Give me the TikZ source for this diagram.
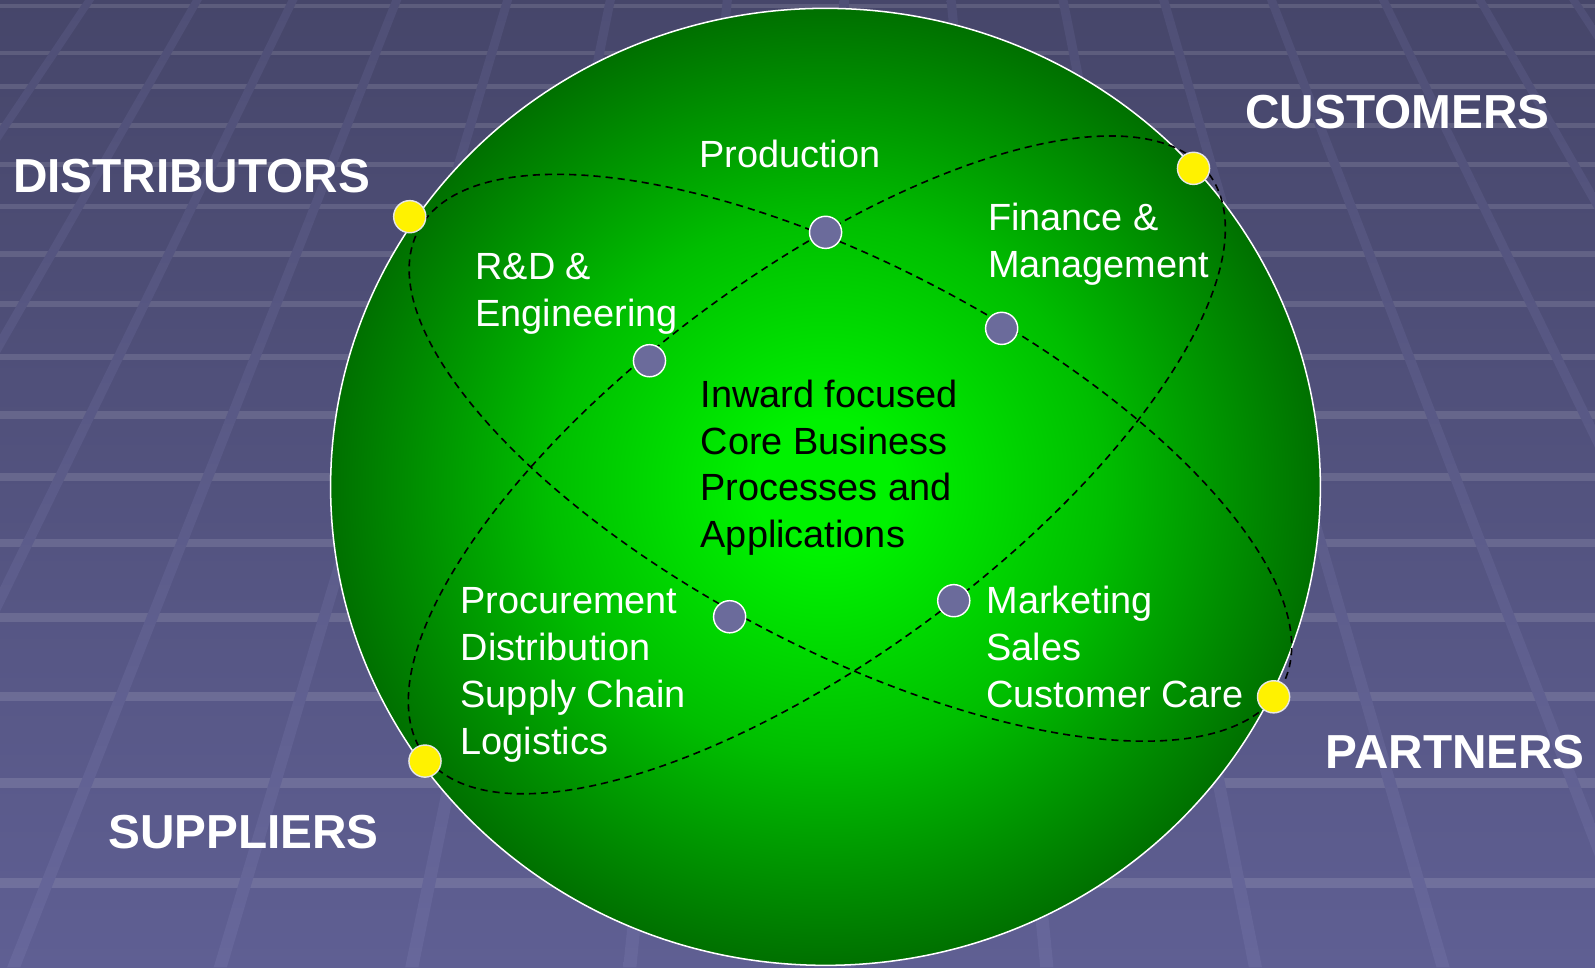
\documentclass[tikz,border=0pt]{standalone}
\usepackage{fontspec}
\setmainfont{Liberation Sans}
\usetikzlibrary{shapes.geometric}

\definecolor{bgtop}{HTML}{46466A}
\definecolor{bgbot}{HTML}{5F5F93}
\definecolor{sttop}{HTML}{4F4F76}
\definecolor{stbot}{HTML}{67679B}
\definecolor{ballin}{HTML}{00F200}
\definecolor{ballmid}{HTML}{00BE00}
\definecolor{ballout}{HTML}{007000}
\definecolor{dotgray}{HTML}{6B6B9B}
\definecolor{dotrim}{HTML}{E6E6E6}

\pgfdeclareradialshading{ballshade}{\pgfpoint{0bp}{0bp}}{color(0bp)=(ballin); color(3.5bp)=(ballin); color(14bp)=(ballmid); color(25bp)=(ballout); color(50bp)=(ballout)}

\begin{document}
\begin{tikzpicture}[x=0.02cm, y=-0.02cm,
  hband/.style={white, opacity=0.12},
  stripe/.style={top color=sttop, bottom color=stbot},
  ballrim/.style={draw=white, line width=0.85pt},
  dashline/.style={draw=black, line width=0.9pt, dash pattern=on 4pt off 2.8pt},
  ydot/.style={circle, fill=yellow, draw=dotrim, line width=0.8pt, minimum size=0.632cm, inner sep=0pt},
  gdot/.style={circle, fill=dotgray, draw=white, line width=0.8pt, minimum size=0.632cm, inner sep=0pt},
  lab/.style={text=white, font=\fontsize{26.7pt}{31pt}\selectfont\bfseries, anchor=base west, inner sep=0pt},
  txt/.style={text=white, font=\fontsize{21.2pt}{26pt}\selectfont, anchor=base west, inner sep=0pt},
  core/.style={txt, text=black}]

\useasboundingbox (0,0) rectangle (1568,951);

% ---------- background ----------
\begin{scope}
\clip (0,0) rectangle (1568,951);
\shade[top color=bgtop, bottom color=bgbot] (0,0) rectangle (1568,951);
\foreach \y/\t in {6/4.0, 52/4.4, 85/4.6, 123/4.9, 162/5.2, 203/5.5, 250/5.8, 299/6.2, 351/6.6, 408/7.0, 469/7.5, 534/7.9, 607/8.5, 685/9.0, 770/9.7, 868/10.4}
  \fill[hband] (0,\y-\t/2) rectangle (1568,\y+\t/2);
\foreach \xt in {88,194,288,390,499,600,715,830,935,1045,1144,1250,1360,1455,1547} {
  \pgfmathsetmacro\xb{\xt + (\xt-826)*0.8638}
  \shade[stripe] (\xt-4.5,0) -- (\xt+4.5,0) -- (\xb+6.5,951) -- (\xb-6.5,951) -- cycle;
}
\end{scope}

% ---------- green ball ----------
\shade[shading=ballshade] (811.5,478.6) ellipse [x radius=486.5, y radius=470.4];
\draw[ballrim] (811.5,478.6) ellipse [x radius=486.5, y radius=470.4];

% ---------- dashed orbits ----------
\draw[dashline, rotate around={-27.75:(836,450)}] (836,450) ellipse [x radius=480, y radius=188];
\draw[dashline, rotate around={36.55:(803,457)}] (803,457) ellipse [x radius=480, y radius=188];

% ---------- dots ----------
\node[ydot] (distdot) at (402.8,213) {};
\node[ydot] (custdot) at (1173.3,165.5) {};
\node[ydot] (suppdot) at (417.8,748.2) {};
\node[ydot] (partdot) at (1252,685) {};
\node[gdot] (proddot) at (811.6,228.4) {};
\node[gdot] (findot) at (984.7,322.8) {};
\node[gdot] (rddot) at (638.5,354.6) {};
\node[gdot] (procdot) at (717.3,606.3) {};
\node[gdot] (mktdot) at (937.6,590.5) {};

% ---------- outer labels ----------
\node[lab] (distributors) at (12.5,189.5) {DISTRIBUTORS};
\node[lab] (customers) at (1224,126) {CUSTOMERS};
\node[lab] (partners) at (1303,755) {PARTNERS};
\node[lab] (suppliers) at (106,834) {SUPPLIERS};

% ---------- inner labels ----------
\node[txt] (production) at (687,164.5) {Production};
\node[txt] (rd1) at (467,275) {R\&D \&};
\node[txt] (rd2) at (467,321) {Engineering};
\node[txt] (fin1) at (971,227) {Finance \&};
\node[txt] (fin2) at (971,273) {Management};
\node[core] (core1) at (688.5,400.5) {Inward focused};
\node[core] (core2) at (688.5,446.5) {Core Business};
\node[core] (core3) at (688.5,492.5) {Processes and};
\node[core] (core4) at (688.5,538.5) {Applications};
\node[txt] (proc1) at (452.5,603.5) {Procurement};
\node[txt] (proc2) at (452.5,649.5) {Distribution};
\node[txt] (proc3) at (452.5,695.5) {Supply Chain};
\node[txt] (proc4) at (452.5,741.5) {Logistics};
\node[txt] (mkt1) at (969.5,603.5) {Marketing};
\node[txt] (mkt2) at (969.5,649.5) {Sales};
\node[txt] (mkt3) at (969.5,695.5) {Customer Care};
\end{tikzpicture}
\end{document}
